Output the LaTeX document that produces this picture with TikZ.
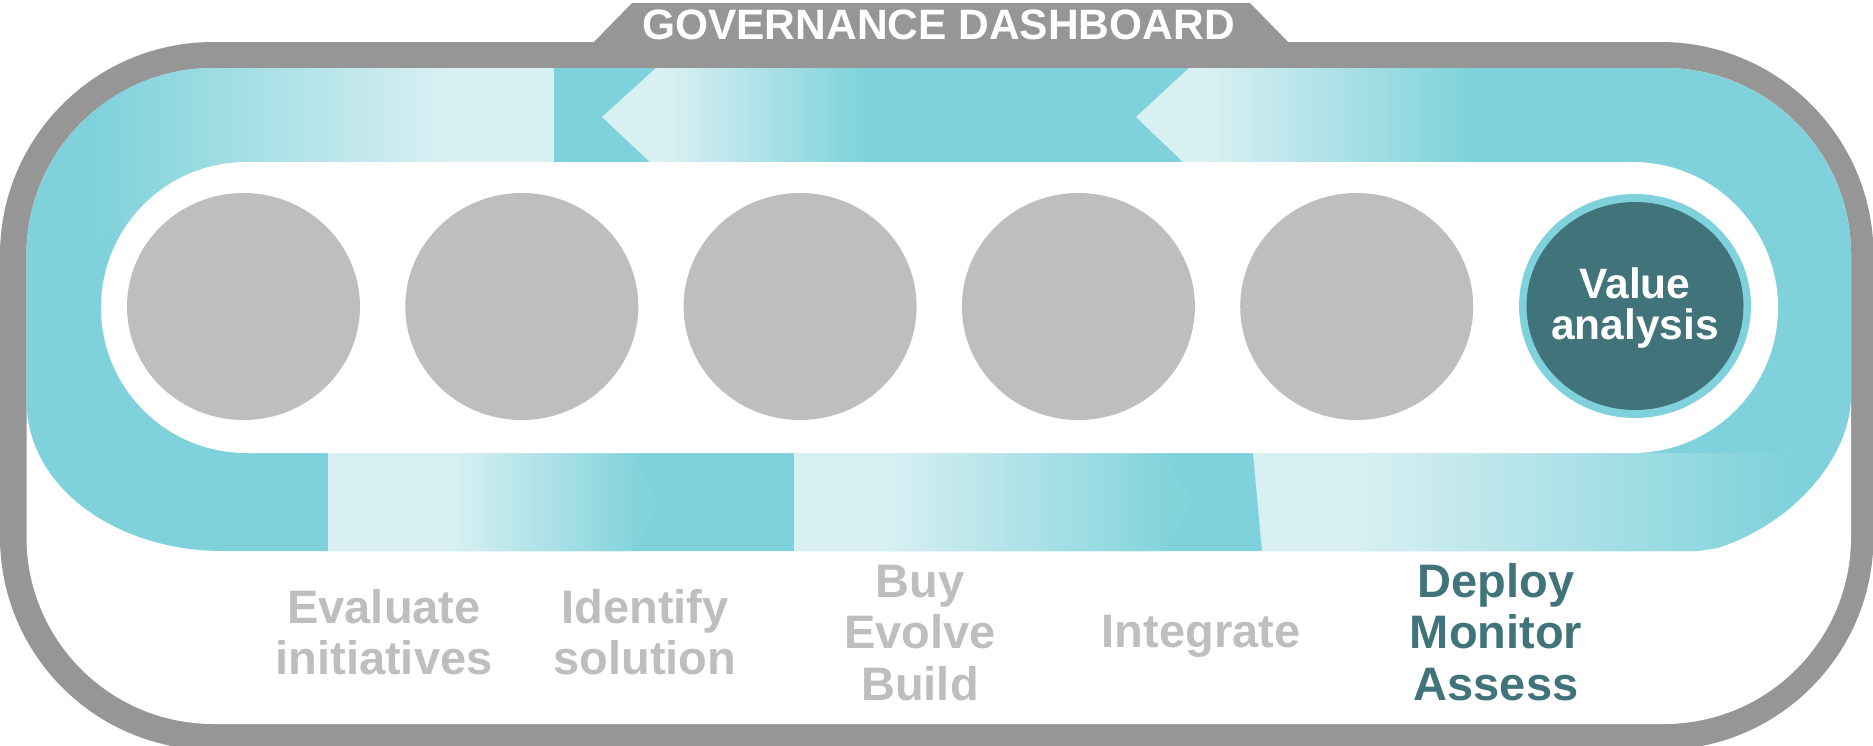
\documentclass[tikz,border=0pt]{standalone}
\usepackage{fontspec}
\setmainfont{Liberation Sans}
\usetikzlibrary{shapes.geometric}

\definecolor{framegray}{HTML}{969696}
\definecolor{bandteal}{HTML}{7FD2DB}
\definecolor{bandlight}{HTML}{D9F0F3}
\definecolor{stepgray}{HTML}{BEBEBE}
\definecolor{deepteal}{HTML}{41737A}

% outer edge of the teal track (top run, right bend, bottom run, left bend)
\newcommand\bandoutline{(26.5,400) -- (26.5,255)
  .. controls (26.5,151.7) and (110.2,68) .. (213.5,68) -- (1664,68)
  .. controls (1767.3,68) and (1851,151.7) .. (1851,255) -- (1851,395)
  .. controls (1851,460) and (1790,525) .. (1717,548) -- (1697,551) -- (222,551)
  .. controls (120,551) and (26.5,490) .. (26.5,400) -- cycle}

\begin{document}
\begin{tikzpicture}[x=1pt,y=-1pt,
  stepdisc/.style={ellipse, fill=stepgray, minimum width=233pt, minimum height=227pt, inner sep=0pt},
  steplabel/.style={anchor=north, inner sep=0pt, align=center, text=stepgray,
    font=\fontsize{47}{51.5}\selectfont\bfseries},
  fadeup/.style={left color=bandlight, right color=bandteal},
  fadedown/.style={left color=bandteal, right color=bandlight}]
\useasboundingbox (0,0) rectangle (1873,745);

% frame with title tab
\fill[framegray, rounded corners=213pt] (0,42) rectangle (1873.5,750);
\fill[framegray] (592,44) -- (632,3) -- (1250,3) -- (1290,44) -- cycle;
\fill[white, rounded corners=187pt] (26.5,68) rectangle (1851,724);
\node[anchor=base, inner sep=0pt, text=white, font=\fontsize{42.5}{45}\selectfont\bfseries]
  (title) at (938.5,39) {GOVERNANCE DASHBOARD};

% teal track
\fill[bandteal] \bandoutline;
\begin{scope}
  \clip \bandoutline;
  % top run, flowing to the left
  \shade[fadedown] (95,68) rectangle (450.5,232);
  \fill[bandlight] (450,68) rectangle (554,162);
  \fill[bandlight] (656,68) -- (602,117) -- (650,162) -- (665.5,162) -- (665.5,68) -- cycle;
  \shade[fadeup] (665,68) rectangle (865,162);
  \fill[bandlight] (1189,68) -- (1136,117) -- (1183,162) -- (1205.5,162) -- (1205.5,68) -- cycle;
  \shade[fadeup] (1205,68) rectangle (1470,162);
  % bottom run, flowing to the right
  \fill[bandlight] (328,453) rectangle (450.5,551);
  \shade[left color=bandlight, right color=bandteal!94!bandlight] (450,453) rectangle (633.5,551);
  \fill[bandteal!94!bandlight] (633,453) -- (658,502) -- (633,551) -- cycle;
  \fill[bandlight] (794,453) rectangle (880.5,551);
  \shade[left color=bandlight, right color=bandteal!94!bandlight] (880,453) rectangle (1163.5,551);
  \fill[bandteal!94!bandlight] (1163,453) -- (1193,502) -- (1163,551) -- cycle;
  \fill[bandlight] (1253,453) -- (1350.5,453) -- (1350.5,551) -- (1262,551) -- cycle;
  \shade[fadeup] (1350,453) rectangle (1790,560);
\end{scope}

% inner field
\fill[white, rounded corners=145.5pt] (101,162) rectangle (1778,453);

% stage discs
\node[stepdisc] (s1) at (243.5,306.5) {};
\node[stepdisc] (s2) at (521.8,306.5) {};
\node[stepdisc] (s3) at (800.1,306.5) {};
\node[stepdisc] (s4) at (1078.4,306.5) {};
\node[stepdisc] (s5) at (1356.7,306.5) {};
\node[ellipse, fill=bandteal, minimum width=232pt, minimum height=224pt, inner sep=0pt]
  (s6ring) at (1635,306) {};
\node[ellipse, fill=deepteal, minimum width=217pt, minimum height=208pt, inner sep=0pt]
  (s6) at (1635,306) {};
\node[anchor=north, inner sep=0pt, align=center, text=white,
  font=\fontsize{42.5}{41}\selectfont\bfseries]
  (s6text) at (1635,262) {\rule{0pt}{36pt}Value\\analysis};

% stage captions
\node[steplabel] (l1) at (384,583) {\rule{0pt}{40pt}Evaluate\\initiatives};
\node[steplabel] (l2) at (645,583) {\rule{0pt}{40pt}Identify\\solution};
\node[steplabel] (l3) at (920,557) {\rule{0pt}{40pt}Buy\\Evolve\\Build};
\node[steplabel] (l4) at (1201,607) {\rule{0pt}{40pt}Integrate};
\node[steplabel, text=deepteal] (l5) at (1496,557) {\rule{0pt}{40pt}Deploy\\Monitor\\Assess};
\end{tikzpicture}
\end{document}
